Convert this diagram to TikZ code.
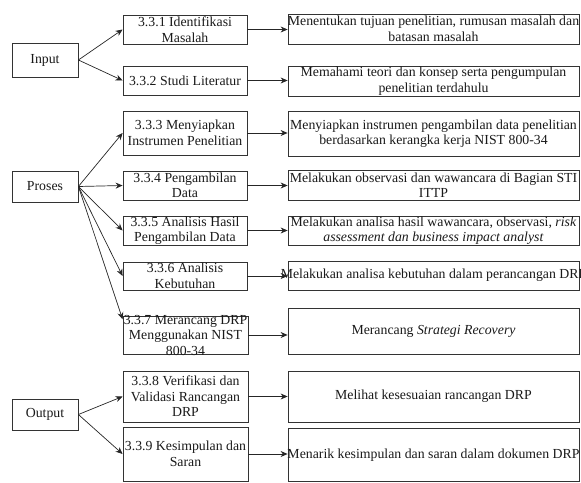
\documentclass[tikz,border=0pt]{standalone}
\usepackage{fontspec}
\setmainfont{Liberation Serif}
\usetikzlibrary{arrows.meta}
\tikzset{
  box/.style={draw=black!80, line width=0.8pt, inner sep=0pt},
  txt/.style={align=center, inner sep=0pt, font=\fontsize{13.8}{15.5}\selectfont, text=black!90},
  conn/.style={draw=black!85, line width=0.7pt, -{Stealth[length=7pt,width=6pt]}}
}
\begin{document}
\begin{tikzpicture}[x=1pt,y=-1pt]
\useasboundingbox (0,0) rectangle (581,482);
% stage boxes
\node[box, minimum width=66, minimum height=34] (in) at (45,60) {};
\node[txt] (int) at (in) {Input};
\node[box, minimum width=66, minimum height=31] (pr) at (45,186.5) {};
\node[txt] (prt) at (pr) {Proses};
\node[box, minimum width=66, minimum height=31] (out) at (45,414.5) {};
\node[txt] (outt) at (out) {Output};
% step boxes
\node[box, minimum width=124, minimum height=29] (b1) at (185,29.5) {};
\node[txt] (b1t) at (b1) {3.3.1 Identifikasi\\Masalah};
\node[box, minimum width=124, minimum height=29] (b2) at (185,80.5) {};
\node[txt] (b2t) at (b2) {3.3.2 Studi Literatur};
\node[box, minimum width=124, minimum height=44] (b3) at (185,133) {};
\node[txt] (b3t) at (b3) {3.3.3 Menyiapkan\\Instrumen Penelitian};
\node[box, minimum width=124, minimum height=29] (b4) at (185,185.5) {};
\node[txt] (b4t) at (b4) {3.3.4 Pengambilan\\Data};
\node[box, minimum width=124, minimum height=29] (b5) at (185,230.5) {};
\node[txt] (b5t) at (b5) {3.3.5 Analisis Hasil\\Pengambilan Data};
\node[box, minimum width=124, minimum height=28] (b6) at (185,276) {};
\node[txt] (b6t) at (b6) {3.3.6 Analisis\\Kebutuhan};
\node[box, minimum width=125, minimum height=38] (b7) at (185.5,335) {};
\node[txt] (b7t) at (b7) {3.3.7 Merancang DRP\\Menggunakan NIST\\800-34};
\node[box, minimum width=125, minimum height=51] (b8) at (185.5,396.5) {};
\node[txt] (b8t) at (b8) {3.3.8 Verifikasi dan\\Validasi Rancangan\\DRP};
\node[box, minimum width=125, minimum height=54] (b9) at (185.5,454) {};
\node[txt] (b9t) at (b9) {3.3.9 Kesimpulan dan\\Saran};
% description boxes
\node[box, minimum width=291, minimum height=30] (r1) at (433.5,29) {};
\node[txt] (r1t) at (r1) {Menentukan tujuan penelitian, rumusan masalah dan\\batasan masalah};
\node[box, minimum width=291, minimum height=30] (r2) at (433.5,81) {};
\node[txt] (r2t) at (r2) {Memahami teori dan konsep serta pengumpulan\\penelitian terdahulu};
\node[box, minimum width=291, minimum height=45] (r3) at (433.5,133.5) {};
\node[txt] (r3t) at (r3) {Menyiapkan instrumen pengambilan data penelitian\\berdasarkan kerangka kerja NIST 800-34};
\node[box, minimum width=291, minimum height=30] (r4) at (433.5,185) {};
\node[txt] (r4t) at (r4) {Melakukan observasi dan wawancara di Bagian STI\\ITTP};
\node[box, minimum width=291, minimum height=29] (r5) at (433.5,230.5) {};
\node[txt] (r5t) at (r5) {Melakukan analisa hasil wawancara, observasi, \textit{risk}\\\textit{assessment dan business impact analyst}};
\node[box, minimum width=291, minimum height=29] (r6) at (433.5,275.5) {};
\node[txt] (r6t) at (r6) {Melakukan analisa kebutuhan dalam perancangan DRP};
\node[box, minimum width=291, minimum height=46] (r7) at (433.5,331) {};
\node[txt] (r7t) at (r7) {Merancang \textit{Strategi Recovery}};
\node[box, minimum width=291, minimum height=51] (r8) at (433.5,396.5) {};
\node[txt] (r8t) at (r8) {Melihat kesesuaian rancangan DRP};
\node[box, minimum width=291, minimum height=53] (r9) at (433.5,455) {};
\node[txt] (r9t) at (r9) {Menarik kesimpulan dan saran dalam dokumen DRP};
% connectors from stages
\draw[conn] (in.east) -- (b1.west);
\draw[conn] (in.east) -- (b2.west);
\draw[conn] (pr.east) -- (b3.west);
\draw[conn] (pr.east) -- (b4.west);
\draw[conn] (pr.east) -- (b5.west);
\draw[conn] (pr.east) -- (b6.west);
\draw[conn] (pr.east) -- (b7.166);
\draw[conn] (out.east) -- (b8.west);
\draw[conn] (out.east) -- (b9.west);
% connectors to descriptions
\foreach \i in {1,...,9}{
  \draw[conn] (b\i.east) -- (b\i.east -| r\i.west);
}
\end{tikzpicture}
\end{document}
